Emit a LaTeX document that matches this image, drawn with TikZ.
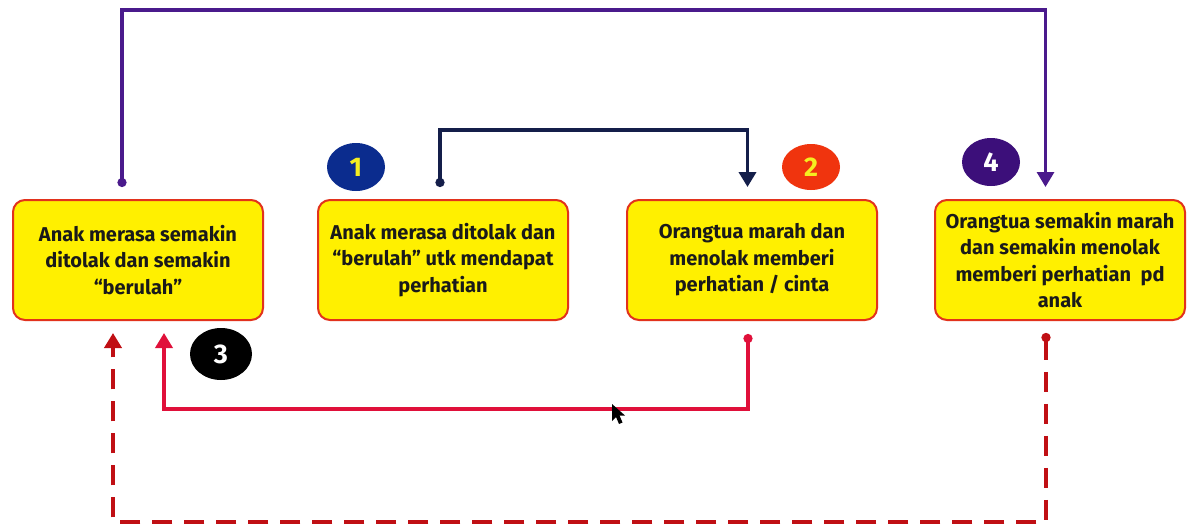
\documentclass[tikz,border=0pt]{standalone}
\usepackage{fontspec}
\setmainfont{Fira Sans}
\usetikzlibrary{arrows.meta,shapes.geometric}
\definecolor{boxyellow}{HTML}{FFF000}
\definecolor{boxred}{HTML}{E2321C}
\definecolor{textdark}{HTML}{1A1A1A}
\definecolor{navyline}{HTML}{141E4A}
\definecolor{purpleline}{HTML}{4A1A8C}
\definecolor{crimsonline}{HTML}{E0103A}
\definecolor{dashred}{HTML}{C00F14}
\definecolor{badgeone}{HTML}{0B2C8E}
\definecolor{badgetwo}{HTML}{F0340E}
\definecolor{badgefour}{HTML}{3C0F7A}
\definecolor{yeltext}{HTML}{F5EE20}
\begin{document}
\begin{tikzpicture}[x=1pt,y=-1pt,
  box/.style={draw=boxred, fill=boxyellow, line width=2pt, rounded corners=12pt,
    minimum width=250pt, minimum height=120pt, align=center, inner sep=0pt,
    text=textdark, font=\bfseries\fontsize{20}{26.5}\selectfont},
  badge/.style={ellipse, minimum width=58pt, minimum height=48pt, inner sep=0pt,
    font=\bfseries\fontsize{27}{30}\selectfont},
  link/.style={line width=3.6pt, line cap=butt, line join=miter},
  startdot/.style={{Circle[length=9pt]}-{Triangle[width=17pt,length=15pt]}}
]
\useasboundingbox (0,0) rectangle (1188,531);
\fill[white] (0,0) rectangle (1188,531);

\node[box] (a) at (138,260) {Anak merasa semakin\\ditolak dan semakin\\“berulah”};
\node[box] (b) at (443,260) {Anak merasa ditolak dan\\“berulah” utk mendapat\\perhatian};
\node[box] (c) at (752,260) {Orangtua marah dan\\menolak memberi\\perhatian / cinta};
\node[box] (d) at (1060,260) {Orangtua semakin marah\\dan semakin menolak\\memberi perhatian\ \ pd\\anak};

\node[badge, fill=badgeone, text=yeltext] (n1) at (356,167) {1};
\node[badge, fill=badgetwo, text=yeltext, minimum height=46pt] (n2) at (811,167) {2};
\node[badge, fill=black, text=white, minimum width=62pt, minimum height=52pt] (n3) at (221,354) {3};
\node[badge, fill=badgefour, text=white] (n4) at (991,162) {4};

\coordinate (navytop) at (600,130);
\coordinate (purpletop) at (600,10);
\coordinate (crimsonbot) at (450,409);
\coordinate (dashbot) at (600,522);

\draw[link, navyline, startdot] ([xshift=-3pt,yshift=12pt]b.north) |- (navytop) -| ([xshift=-4.5pt,yshift=12pt]c.north);
\draw[link, purpleline, line width=3.2pt, startdot] ([xshift=-16pt,yshift=12pt]a.north) |- (purpletop) -| ([xshift=-14.5pt,yshift=12pt]d.north);
\draw[link, crimsonline, startdot] ([xshift=-4pt,yshift=-13pt]c.south) |- (crimsonbot) -| ([xshift=26pt,yshift=-12pt]a.south);
\draw[link, dashred, line width=4.5pt, dash pattern=on 20pt off 12pt, startdot] ([xshift=-14pt,yshift=-12pt]d.south) |- (dashbot) -| ([xshift=-25pt,yshift=-12pt]a.south);

% mouse cursor
\fill[black] (612,404) -- (612,421) -- (616,417) -- (619,424) -- (622.5,422.5) -- (619.5,415.5) -- (625,415.5) -- cycle;
\end{tikzpicture}
\end{document}
